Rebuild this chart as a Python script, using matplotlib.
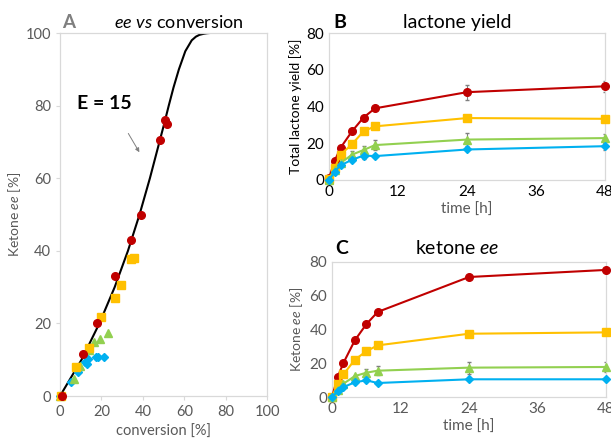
import numpy as np
import matplotlib.pyplot as plt

plt.rcParams['font.family'] = ['Lato', 'DejaVu Sans']
plt.rcParams['mathtext.fontset'] = 'custom'
plt.rcParams['mathtext.rm'] = 'Lato'
plt.rcParams['mathtext.it'] = 'Lato:italic'
plt.rcParams['mathtext.bf'] = 'Lato:bold'

# panel A: ketone ee vs conversion
conv_red = [0.8, 11, 17.7, 26.7, 34.3, 39.3, 48.2, 50.7, 51.5]
ee_red = [0, 11.5, 20, 33.2, 43, 50, 70.5, 76, 74.9]
conv_yel = [0.5, 7.7, 14.2, 19.7, 26.6, 29.3, 34.3, 35.9]
ee_yel = [0, 8.1, 13.3, 21.8, 26.9, 30.6, 37.8, 37.9]
conv_grn = [0, 6.8, 9.7, 14.2, 16.6, 19.3, 23]
ee_grn = [0, 4.6, 8.4, 12.7, 14.8, 15.7, 17.5]
conv_blu = [0, 5.3, 8.5, 12.2, 13.2, 13.7, 17.2, 18.5, 21.1]
ee_blu = [0, 3.9, 6.5, 9.5, 8.8, 10.1, 10.8, 10.8, 10.8]

# E = 15 curve
curve_conv = [0, 10.4, 19.0, 26.4, 32.8, 38.4, 43.4, 48.0, 50.3, 52.5, 54.8,
              57.4, 60.5, 63.6, 65.6, 67.3, 69.4, 71.0, 72.0]
curve_ee = [0, 10, 20, 30, 40, 50, 60, 70, 75, 80, 85,
            90, 95, 98, 99, 99.5, 99.8, 99.95, 100]

# panels B and C
time = [0, 1, 2, 4, 6, 8, 24, 48]
yield_red = [1, 10.5, 17.5, 26.5, 34, 39, 47.8, 51]
yield_yel = [0.5, 6.5, 13.8, 19.5, 26.5, 29.2, 33.7, 33.3]
yield_grn = [0, 5.5, 9.2, 13.8, 16.3, 19, 22, 22.8]
yield_blu = [0, 4.5, 8, 11, 13.3, 13, 16.6, 18.4]
yield_err_red = [0, 0, 0, 0, 0, 0, 4, 3]
yield_err_grn = [0, 0, 0, 2, 2, 2.5, 3.5, 2.5]
yield_err_blu = [0, 0, 0, 0, 2, 0, 0, 2]

ee_t_red = [0, 11.9, 20.2, 33.6, 43.1, 50.4, 71.1, 75.3]
ee_t_yel = [0, 8, 13.4, 22.1, 27.1, 30.6, 37.5, 38.3]
ee_t_grn = [0, 4, 7.9, 12.4, 14.4, 15.6, 17.4, 17.8]
ee_t_blu = [0, 3.4, 5.9, 8.7, 9.9, 8.3, 10.5, 10.5]
ee_err_grn = [0, 0, 0, 0, 2, 2.5, 3.5, 3]

colors = ['#C00000', '#FFC000', '#92D050', '#00B0F0']
markers = ['o', 's', '^', 'D']
sizes = [5.5, 5.5, 5.5, 4.2]
grid_c = '#D9D9D9'
txt_c = '#595959'

fig = plt.figure(figsize=(6.11, 4.43), dpi=100)
axA = fig.add_axes([0.0982, 0.106, 0.339, 0.8194])
axB = fig.add_axes([0.5385, 0.5937, 0.4517, 0.3318])
axC = fig.add_axes([0.5434, 0.1038, 0.4484, 0.3048])


def style(ax, col):
    for s in ax.spines.values():
        s.set_color(grid_c)
        s.set_linewidth(0.9)
    ax.tick_params(colors=grid_c, labelcolor=col, length=3, width=0.8)


# A
axA.plot(curve_conv, curve_ee, color='black', lw=1.5, zorder=2)
for cx, cy, c, m, s in zip([conv_blu, conv_grn, conv_yel, conv_red],
                           [ee_blu, ee_grn, ee_yel, ee_red],
                           colors[::-1], markers[::-1], sizes[::-1]):
    axA.plot(cx, cy, ls='none', marker=m, ms=s, color=c, clip_on=False, zorder=3)
axA.set_xlim(0, 100)
axA.set_ylim(0, 100)
axA.set_xticks(range(0, 101, 20))
axA.set_yticks(range(0, 101, 20))
style(axA, txt_c)
axA.tick_params(labelsize=10.5)
axA.set_xlabel('conversion [%]', color=txt_c, fontsize=10.5, labelpad=4)
axA.set_ylabel('Ketone $\\it{ee}$ [%]', color=txt_c, fontsize=10, labelpad=2)
axA.text(8, 80.7, 'E = 15', fontsize=14, fontweight='bold', va='center')
axA.annotate('', xy=(39, 66.5), xytext=(32.3, 73),
             arrowprops=dict(arrowstyle='-|>', color='#7F7F7F', lw=0.7,
                             mutation_scale=6))
fig.text(0.101, 0.95, 'A', fontsize=13.5, fontweight='bold', color='#7F7F7F', va='center')
fig.text(0.293, 0.95, '$\\it{ee}$ $\\it{vs}$ conversion', fontsize=13,
         ha='center', va='center')


def series(ax, ys, errs):
    for y, e, c, m, s in zip(ys, errs, colors, markers, sizes):
        ax.plot(time, y, color=c, marker=m, ms=s, lw=1.5, clip_on=False, zorder=3)
        if e is not None:
            ax.errorbar(time, y, yerr=e, fmt='none', ecolor='#7F7F7F',
                        elinewidth=0.8, capsize=1.5, zorder=2)


# B
series(axB, [yield_red, yield_yel, yield_grn, yield_blu],
       [yield_err_red, None, yield_err_grn, yield_err_blu])
axB.set_xlim(0, 48)
axB.set_ylim(0, 80)
axB.set_xticks(range(0, 49, 12))
axB.set_yticks(range(0, 81, 20))
style(axB, 'black')
axB.tick_params(labelsize=11, length=0)
axB.set_xlabel('time [h]', fontsize=11, color=txt_c, labelpad=3)
axB.set_ylabel('Total lactone yield [%]', fontsize=10, labelpad=3)
fig.text(0.545, 0.95, 'B', fontsize=14, fontweight='bold', va='center')
fig.text(0.748, 0.95, 'lactone yield', fontsize=14, ha='center', va='center')

# C
series(axC, [ee_t_red, ee_t_yel, ee_t_grn, ee_t_blu],
       [None, None, ee_err_grn, None])
axC.set_xlim(0, 48)
axC.set_ylim(0, 80)
axC.set_xticks(range(0, 49, 12))
axC.set_yticks(range(0, 81, 20))
style(axC, txt_c)
axC.tick_params(labelsize=11, length=0)
axC.set_xlabel('time [h]', fontsize=11, color=txt_c, labelpad=3)
axC.set_ylabel('Ketone $\\it{ee}$ [%]', fontsize=10, color=txt_c, labelpad=3)
fig.text(0.548, 0.44, 'C', fontsize=14, fontweight='bold', va='center')
fig.text(0.748, 0.44, 'ketone $\\it{ee}$', fontsize=14, ha='center', va='center')

fig.savefig('out.png', dpi=100)
